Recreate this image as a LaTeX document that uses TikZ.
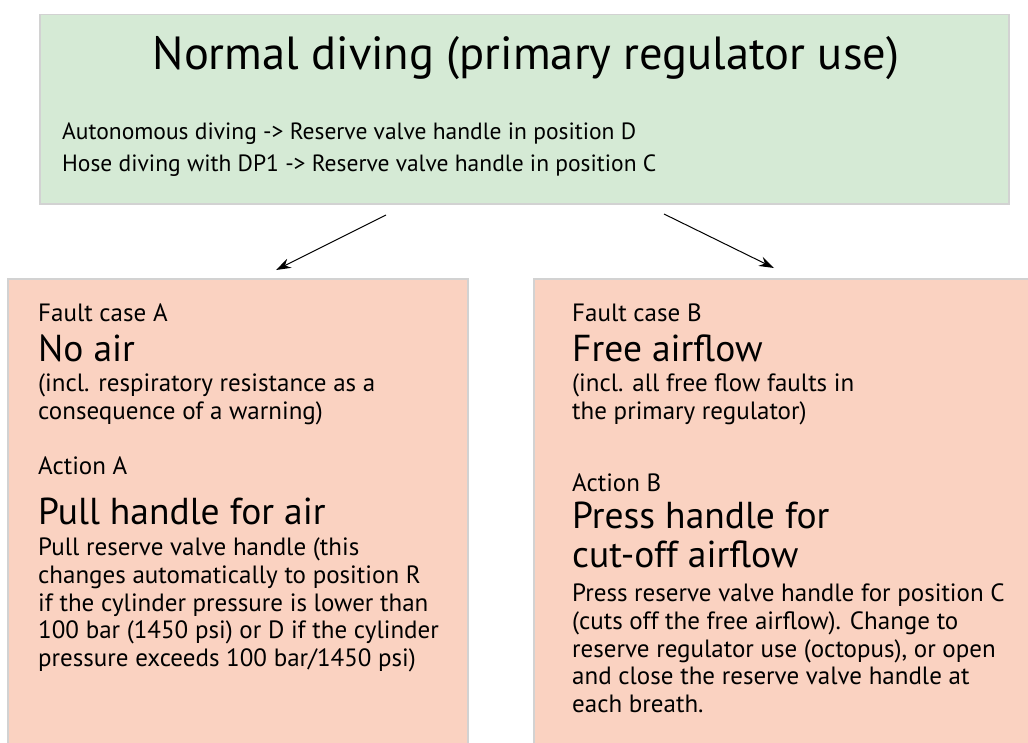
\documentclass[tikz,border=0pt]{standalone}
\usepackage{fontspec}
\setmainfont{PT Sans}
\usetikzlibrary{arrows.meta}
\definecolor{topfill}{HTML}{D5EAD5}
\definecolor{faultfill}{HTML}{FAD2C1}
\definecolor{edgegrey}{HTML}{D2D2D2}
\tikzset{
  box/.style={draw=edgegrey, line width=1.5pt, inner sep=0pt},
  txt/.style={anchor=base west, inner sep=0pt, font=\fontsize{23.5}{28}\selectfont},
  small/.style={txt, font=\fontsize{25}{30}\selectfont},
  big/.style={txt, font=\fontsize{37.5}{42}\selectfont},
  arr/.style={-{Stealth[length=15pt, width=10pt, inset=5pt]}, line width=1pt}
}
\begin{document}
\begin{tikzpicture}[x=1pt, y=-1pt]
\useasboundingbox (0,0) rectangle (1028,742);
% boxes
\node[box, fill=topfill, minimum width=969pt, minimum height=189.5pt] (top) at (524.5,109.25) {};
\node[box, fill=faultfill, minimum width=460pt, minimum height=470pt] (left) at (238,514) {};
\node[box, fill=faultfill, minimum width=500pt, minimum height=470pt] (right) at (784,514) {};
% top text
\node[anchor=base, inner sep=0pt, font=\fontsize{46.5}{52}\selectfont] (title) at (526,69) {Normal diving (primary regulator use)};
\node[txt] (t1) at (62,139) {Autonomous diving -> Reserve valve handle in position D};
\node[txt] (t2) at (62,171) {Hose diving with DP1 -> Reserve valve handle in position C};
% arrows
\coordinate (a1s) at (386,215);
\coordinate (a1e) at (276,270);
\coordinate (a2s) at (664,214);
\coordinate (a2e) at (774,268);
\draw[arr] (a1s) -- (a1e);
\draw[arr] (a2s) -- (a2e);
% left box text
\node[small] (la1) at (38,321) {Fault case A};
\node[big] (la2) at (38,361) {No air};
\node[small] (la3) at (38,391) {(incl. respiratory resistance as a};
\node[small] (la4) at (38,419) {consequence of a warning)};
\node[small] (la5) at (38,474) {Action A};
\node[big] (la6) at (38,524) {Pull handle for air};
\node[small] (la7) at (38,555) {Pull reserve valve handle (this};
\node[small] (la8) at (38,583) {changes automatically to position R};
\node[small] (la9) at (38,611) {if the cylinder pressure is lower than};
\node[small] (la10) at (38,638) {100 bar (1450 psi) or D if the cylinder};
\node[small] (la11) at (38,666) {pressure exceeds 100 bar/1450 psi)};
% right box text
\node[small] (rb1) at (572,321) {Fault case B};
\node[big] (rb2) at (572,361) {Free airflow};
\node[small] (rb3) at (572,391) {(incl. all free flow faults in};
\node[small] (rb4) at (572,419) {the primary regulator)};
\node[small] (rb5) at (572,491) {Action B};
\node[big] (rb6) at (572,528) {Press handle for};
\node[big] (rb7) at (572,567) {cut-off airflow};
\node[small] (rb8) at (572,601) {Press reserve valve handle for position C};
\node[small] (rb9) at (572,629) {(cuts off the free airflow). Change to};
\node[small] (rb10) at (572,657) {reserve regulator use (octopus), or open};
\node[small] (rb11) at (572,684) {and close the reserve valve handle at};
\node[small] (rb12) at (572,712) {each breath.};
\end{tikzpicture}
\end{document}
